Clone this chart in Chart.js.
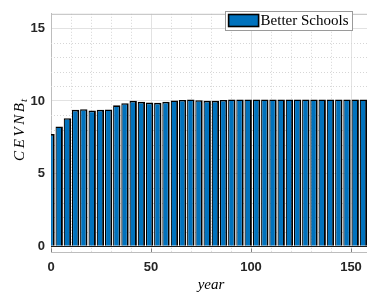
<!DOCTYPE html>
<html>
<head>
<meta charset="utf-8">
<title>CEVNB - Better Schools</title>
<script src="https://cdn.jsdelivr.net/npm/chart.js@4.4.1/dist/chart.umd.min.js"></script>
<style>
  html, body { margin: 0; padding: 0; background: #fff; overflow: hidden; }
  #wrap { width: 367px; height: 297px; overflow: hidden; }
  canvas { display: block; }
</style>
</head>
<body>
<div id="wrap"><canvas id="chartCevnb" width="374" height="297"></canvas></div>
<script>
// Data
const YEARS = [
  0, 4.1, 8.2, 12.3, 16.4, 20.6, 24.7, 28.8, 32.9, 37.0,
  41.1, 45.2, 49.3, 53.4, 57.5, 61.7, 65.8, 69.9, 74.0, 78.1,
  82.2, 86.3, 90.4, 94.5, 98.6, 102.8, 106.9, 111.0, 115.1, 119.2,
  123.3, 127.4, 131.5, 135.6, 139.7, 143.9, 148.0, 152.1, 156.2,
];
const CEVNB = [
  7.72, 8.24, 8.81, 9.39, 9.43, 9.34, 9.39, 9.41, 9.70, 9.85,
  10.01, 9.94, 9.89, 9.87, 9.94, 10.03, 10.07, 10.10, 10.05, 10.01,
  10.01, 10.07, 10.10, 10.10, 10.10, 10.10, 10.10, 10.10, 10.10, 10.10,
  10.10, 10.10, 10.10, 10.10, 10.10, 10.10, 10.10, 10.10, 10.10,
];
const SERIES_LABEL = "Better Schools";
const X_TICKS = [0, 50, 100, 150];
const Y_TICKS = [0, 5, 10, 15];
const X_TITLE = "year";
const Y_TITLE = "CEVNB";
const Y_TITLE_SUB = "t";

const X_MIN = 0, X_MAX = 160, X_MINOR_STEP = 10;
const Y_MIN = -0.4, Y_MAX = 16, Y_MINOR_STEP = 1;

// Colours (MATLAB look)
const BAR_BLUE = "#0072BD";
const MAJOR_GRID = "#e2e2e2";
const MINOR_GRID = "#d6d6d6";
const AXIS_GREY = "#bdbdbd";
const TEXT_DARK = "#262626";
const SERIF = "'Liberation Serif', 'Times New Roman', serif";

Chart.defaults.font.family = "'Liberation Sans', Arial, sans-serif";
Chart.defaults.color = TEXT_DARK;

function drawYTitle(ctx, a) {
  const gap = 2.6;
  ctx.save();
  ctx.translate(23.5, (a.top + a.bottom) / 2 - 3);
  ctx.rotate(-Math.PI / 2);
  ctx.fillStyle = "#000";
  ctx.textBaseline = "alphabetic";
  ctx.font = "italic 15px " + SERIF;
  const chars = Y_TITLE.split("");
  const widths = chars.map(c => ctx.measureText(c).width);
  ctx.font = "italic 11px " + SERIF;
  const subW = ctx.measureText(Y_TITLE_SUB).width;
  const total = widths.reduce((s, w) => s + w, 0) + gap * (chars.length - 1) + subW + 1;
  let cx = -total / 2;
  ctx.font = "italic 15px " + SERIF;
  chars.forEach((c, i) => {
    ctx.fillText(c, cx, 0);
    cx += widths[i] + gap;
  });
  ctx.font = "italic 11px " + SERIF;
  ctx.fillText(Y_TITLE_SUB, cx - gap + 1, 3.5);
  ctx.restore();
}

function drawLegend(ctx, a, ds) {
  ctx.save();
  ctx.font = "15px " + SERIF;
  const textW = ctx.measureText(SERIES_LABEL).width;
  const right = a.right - 19;
  const boxW = textW + 39;
  const left = right - boxW;
  const top = 11, h = 19;
  ctx.fillStyle = "#fff";
  ctx.fillRect(left, top, boxW, h);
  ctx.strokeStyle = "#9a9a9a";
  ctx.lineWidth = 1;
  ctx.strokeRect(Math.round(left) + 0.5, top + 0.5, Math.round(boxW), h);
  // patch
  ctx.fillStyle = ds.backgroundColor;
  ctx.fillRect(left + 3.5, top + 3.5, 30, 12);
  ctx.strokeStyle = "#000";
  ctx.lineWidth = 1.6;
  ctx.strokeRect(left + 3.5, top + 3.5, 30, 12);
  ctx.fillStyle = "#000";
  ctx.textBaseline = "alphabetic";
  ctx.fillText(SERIES_LABEL, left + 35.5, top + 14);
  ctx.restore();
}

const plotDecor = {
  id: "plotDecor",
  beforeDatasetsDraw(chart) {
    const { ctx, chartArea: a, scales: { x, y } } = chart;
    ctx.save();
    ctx.strokeStyle = MINOR_GRID;
    ctx.lineWidth = 1;
    ctx.setLineDash([1, 2]);
    ctx.beginPath();
    for (let v = X_MINOR_STEP; v < X_MAX; v += X_MINOR_STEP) {
      if (X_TICKS.includes(v)) continue;
      const px = Math.round(x.getPixelForValue(v)) + 0.5;
      ctx.moveTo(px, a.top);
      ctx.lineTo(px, a.bottom);
    }
    for (let v = Y_MINOR_STEP; v < Y_MAX; v += Y_MINOR_STEP) {
      if (Y_TICKS.includes(v)) continue;
      const py = Math.round(y.getPixelForValue(v)) + 0.5;
      ctx.moveTo(a.left, py);
      ctx.lineTo(a.right, py);
    }
    ctx.stroke();
    ctx.restore();
  },
  afterDatasetsDraw(chart) {
    const { ctx, chartArea: a, scales: { x, y } } = chart;
    ctx.save();
    // bar baseline at zero
    const y0 = Math.round(y.getPixelForValue(0)) + 0.5;
    ctx.strokeStyle = "#1a1a1a";
    ctx.lineWidth = 1;
    ctx.beginPath();
    ctx.moveTo(a.left, y0);
    ctx.lineTo(a.right, y0);
    ctx.stroke();
    // top box edge
    ctx.strokeStyle = AXIS_GREY;
    ctx.beginPath();
    ctx.moveTo(a.left, a.top + 0.5);
    ctx.lineTo(a.right, a.top + 0.5);
    ctx.stroke();
    // x tick marks
    ctx.strokeStyle = "#808080";
    ctx.beginPath();
    X_TICKS.forEach(v => {
      const px = Math.round(x.getPixelForValue(v)) + 0.5;
      ctx.moveTo(px, a.bottom);
      ctx.lineTo(px, a.bottom - 3.5);
    });
    ctx.stroke();
    ctx.restore();
  },
  afterDraw(chart) {
    const { ctx, chartArea: a } = chart;
    drawYTitle(ctx, a);
    ctx.save();
    ctx.fillStyle = "#000";
    ctx.font = "italic 15px " + SERIF;
    ctx.textAlign = "center";
    ctx.textBaseline = "alphabetic";
    ctx.fillText(X_TITLE, (a.left + a.right) / 2, 288.5);
    ctx.restore();
    drawLegend(ctx, a, chart.data.datasets[0]);
  },
};

function initChart() {
  const tickFont = { size: 13, weight: "bold" };
  return new Chart(document.getElementById("chartCevnb"), {
    type: "bar",
    data: {
      datasets: [{
        label: SERIES_LABEL,
        data: YEARS.map((yr, i) => ({ x: yr, y: CEVNB[i] })),
        backgroundColor: BAR_BLUE,
        borderColor: "#000",
        borderWidth: { top: 1.6, left: 1.2, right: 1.9, bottom: 0 },
        borderSkipped: "start",
        barPercentage: 0.9,
        categoryPercentage: 1,
      }],
    },
    options: {
      responsive: false,
      animation: false,
      devicePixelRatio: 1,
      layout: { padding: { top: 5, right: 3, left: 0, bottom: 0 } },
      plugins: { legend: { display: false }, tooltip: { enabled: false } },
      scales: {
        x: {
          type: "linear",
          min: X_MIN,
          max: X_MAX,
          offset: false,
          afterBuildTicks: s => { s.ticks = X_TICKS.map(v => ({ value: v })); },
          afterFit: s => { s.height = 45; },
          grid: { offset: false, color: MAJOR_GRID, drawTicks: false },
          border: { color: AXIS_GREY },
          ticks: { font: tickFont, color: TEXT_DARK, padding: 8, maxRotation: 0, autoSkip: false },
        },
        y: {
          type: "linear",
          min: Y_MIN,
          max: Y_MAX,
          afterBuildTicks: s => { s.ticks = Y_TICKS.map(v => ({ value: v })); },
          afterFit: s => { s.width = 51; },
          grid: { color: MAJOR_GRID, drawTicks: false },
          border: { color: AXIS_GREY },
          ticks: { font: tickFont, color: TEXT_DARK, padding: 6 },
        },
      },
    },
    plugins: [plotDecor],
  });
}

document.addEventListener("DOMContentLoaded", () => {
  initChart();
});
</script>
</body>
</html>
